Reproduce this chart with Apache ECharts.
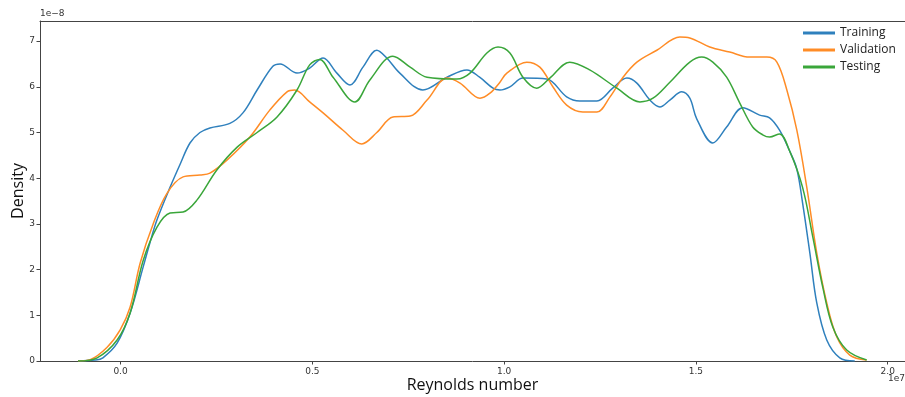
<!DOCTYPE html>
<html>
<head>
<meta charset="utf-8">
<script src="https://cdn.jsdelivr.net/npm/echarts@6/dist/echarts.min.js"></script>
<style>
  html, body { margin: 0; padding: 0; background: #fff; }
  #chart { width: 905px; height: 397px; }
</style>
</head>
<body>
<div id="chart"></div>
<script>
// Reynolds number in units of 1e7, density in units of 1e-8
const trainingX = [-0.111, -0.066, -0.046, -0.009, 0.025, 0.059, 0.077, 0.095, 0.129, 0.155, 0.181, 0.207, 0.233, 0.285, 0.319, 0.356, 0.397, 0.416, 0.46, 0.493, 0.528, 0.564, 0.598, 0.632, 0.668, 0.694, 0.728, 0.788, 0.851, 0.903, 0.936, 0.971, 0.989, 1.015, 1.049, 1.111, 1.163, 1.197, 1.242, 1.283, 1.32, 1.346, 1.38, 1.406, 1.432, 1.463, 1.484, 1.502, 1.544, 1.58, 1.622, 1.666, 1.692, 1.718, 1.744, 1.763, 1.778, 1.797, 1.815, 1.841, 1.875, 1.914];
const trainingY = [0, 0.02, 0.07, 0.39, 1.05, 2.06, 2.6, 3.09, 3.8, 4.3, 4.77, 5.0, 5.1, 5.2, 5.43, 5.93, 6.45, 6.5, 6.3, 6.41, 6.63, 6.3, 6.04, 6.43, 6.8, 6.63, 6.3, 5.93, 6.21, 6.37, 6.21, 5.97, 5.93, 6.0, 6.19, 6.17, 5.78, 5.69, 5.69, 5.97, 6.19, 6.08, 5.71, 5.56, 5.71, 5.89, 5.75, 5.3, 4.77, 5.12, 5.54, 5.38, 5.32, 5.05, 4.6, 4.2, 3.46, 2.36, 1.27, 0.46, 0.07, 0];

const validationX = [-0.111, -0.079, -0.035, -0.001, 0.025, 0.051, 0.085, 0.121, 0.163, 0.207, 0.233, 0.278, 0.337, 0.389, 0.434, 0.454, 0.493, 0.528, 0.58, 0.629, 0.668, 0.71, 0.755, 0.799, 0.851, 0.885, 0.937, 0.963, 0.989, 1.007, 1.059, 1.093, 1.127, 1.163, 1.205, 1.242, 1.276, 1.31, 1.346, 1.398, 1.458, 1.484, 1.536, 1.588, 1.64, 1.685, 1.711, 1.737, 1.763, 1.789, 1.815, 1.841, 1.867, 1.901, 1.945];
const validationY = [0, 0.03, 0.3, 0.68, 1.18, 2.14, 3.0, 3.67, 4.03, 4.07, 4.11, 4.4, 4.9, 5.49, 5.89, 5.93, 5.67, 5.43, 5.05, 4.75, 5.0, 5.34, 5.36, 5.71, 6.19, 6.08, 5.75, 5.86, 6.1, 6.3, 6.54, 6.43, 6.0, 5.6, 5.45, 5.45, 5.78, 6.21, 6.54, 6.8, 7.09, 7.07, 6.87, 6.76, 6.65, 6.65, 6.54, 5.93, 5.05, 3.8, 2.36, 1.27, 0.53, 0.13, 0.02];

const testingX = [-0.111, -0.061, -0.009, 0.025, 0.059, 0.095, 0.129, 0.163, 0.199, 0.251, 0.304, 0.356, 0.408, 0.46, 0.493, 0.519, 0.554, 0.611, 0.65, 0.71, 0.755, 0.799, 0.877, 0.911, 0.955, 0.984, 1.015, 1.049, 1.085, 1.119, 1.171, 1.223, 1.294, 1.354, 1.388, 1.432, 1.484, 1.515, 1.544, 1.58, 1.614, 1.648, 1.674, 1.692, 1.718, 1.744, 1.778, 1.805, 1.831, 1.857, 1.893, 1.945];
const testingY = [0, 0.07, 0.46, 1.05, 2.2, 2.93, 3.24, 3.26, 3.52, 4.18, 4.68, 5.0, 5.34, 5.93, 6.48, 6.6, 6.21, 5.67, 6.15, 6.67, 6.43, 6.21, 6.17, 6.3, 6.74, 6.87, 6.74, 6.21, 5.97, 6.19, 6.54, 6.37, 5.97, 5.67, 5.75, 6.1, 6.54, 6.65, 6.54, 6.21, 5.65, 5.12, 4.95, 4.9, 4.97, 4.6, 3.8, 2.7, 1.6, 0.74, 0.24, 0.02];

const xTicks = [0, 0.5, 1.0, 1.5, 2.0];
const yTicks = [0, 1, 2, 3, 4, 5, 6, 7];

const seriesNames = ['Training', 'Validation', 'Testing'];
const seriesColors = ['#2f80bd', '#ff8c26', '#3aa63a'];

const pairs = (xs, ys) => xs.map((x, i) => [x, ys[i]]);
const seriesData = [
  pairs(trainingX, trainingY),
  pairs(validationX, validationY),
  pairs(testingX, testingY)
];

const chart = echarts.init(document.getElementById('chart'), null, { renderer: 'canvas' });
const axisColor = '#444';
const tickFont = { fontFamily: 'DejaVu Sans', fontSize: 9, color: '#333' };

chart.setOption({
  animation: false,
  backgroundColor: '#fff',
  grid: { left: 40, right: 0, top: 21, bottom: 36, containLabel: false, outerBoundsMode: 'none' },
  legend: {
    orient: 'vertical',
    left: 798,
    top: 21,
    itemWidth: 32,
    itemHeight: 3,
    itemGap: 3,
    icon: 'rect',
    data: seriesNames,
    textStyle: { fontFamily: 'Open Sans', fontSize: 12, color: '#222', padding: [0, 0, 0, 0], lineHeight: 14 }
  },
  xAxis: [{
    type: 'value',
    min: -0.21,
    max: 2.045,
    name: 'Reynolds number',
    nameLocation: 'middle',
    nameGap: 16,
    nameMoveOverlap: false,
    nameTextStyle: { fontFamily: 'Open Sans', fontSize: 16, color: '#111' },
    axisLine: { show: true, onZero: false, lineStyle: { color: axisColor, width: 1 } },
    axisTick: { show: true, length: 3.5, customValues: xTicks, lineStyle: { color: axisColor } },
    axisLabel: Object.assign({ customValues: xTicks, margin: 6, formatter: v => v.toFixed(1) }, tickFont),
    splitLine: { show: false }
  }, {
    type: 'value',
    position: 'top',
    min: -0.21,
    max: 2.045,
    axisLine: { show: true, onZero: false, lineStyle: { color: axisColor, width: 1 } },
    axisTick: { show: false },
    axisLabel: { show: false },
    splitLine: { show: false }
  }],
  yAxis: {
    type: 'value',
    min: 0,
    max: 7.44,
    interval: 1,
    name: 'Density',
    nameLocation: 'middle',
    nameGap: 14,
    nameMoveOverlap: false,
    nameTextStyle: { fontFamily: 'Open Sans', fontSize: 16, color: '#111' },
    axisLine: { show: true, onZero: false, lineStyle: { color: axisColor, width: 1 } },
    axisTick: { show: true, length: 3.5, customValues: yTicks, lineStyle: { color: axisColor } },
    axisLabel: Object.assign({ customValues: yTicks, margin: 5 }, tickFont),
    splitLine: { show: false }
  },
  graphic: [
    { type: 'text', left: 40, top: 9, style: { text: '1e\u22128', font: '9px "DejaVu Sans"', fill: '#333' } },
    { type: 'text', right: 0, top: 374, style: { text: '1e7', font: '9px "DejaVu Sans"', fill: '#333' } }
  ],
  series: seriesNames.map((name, i) => ({
    name,
    type: 'line',
    xAxisIndex: 0,
    data: seriesData[i],
    smooth: 0.35,
    showSymbol: false,
    symbol: 'none',
    lineStyle: { color: seriesColors[i], width: 1.5 },
    itemStyle: { color: seriesColors[i] }
  }))
});
</script>
</body>
</html>
